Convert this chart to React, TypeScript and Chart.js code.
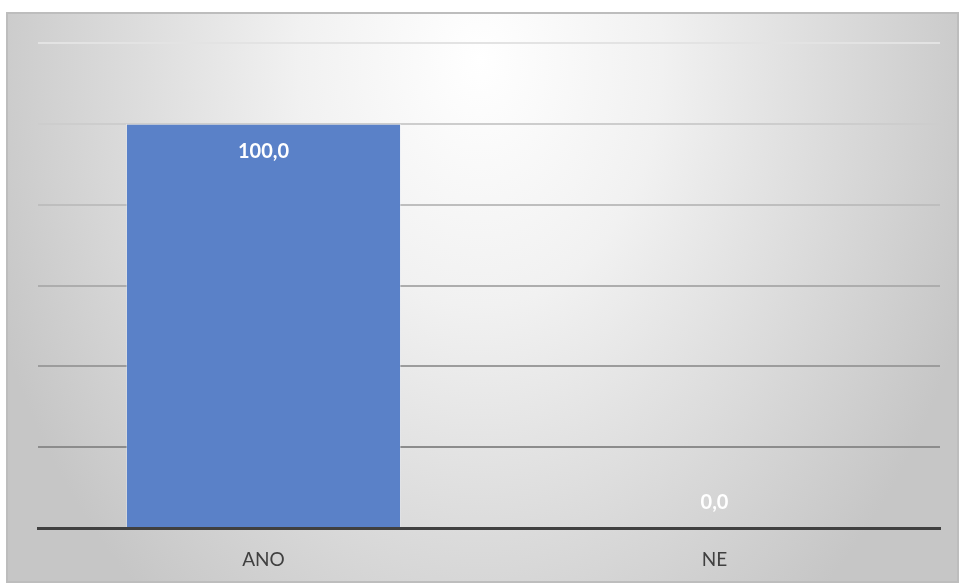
import React, { useEffect, useRef } from "react";
import { Chart, registerables } from "chart.js";

Chart.register(...registerables);

const categories = ["ANO", "NE"];
const values = [100.0, 0.0];
const yMin = 0;
const yMax = 120;
const yStep = 20;

const gridShade: Record<number, string> = {
  0: "#404040",
  20: "#8c8c8c",
  40: "#9c9c9c",
  60: "#adadad",
  80: "#bebebe",
  100: "#cdcdcd",
  120: "#e3e3e3",
};

const bgPlugin = {
  id: "bgPlugin",
  beforeDraw(chart: any) {
    const ctx = chart.ctx;
    const x0 = 7, y0 = 13, x1 = 958, y1 = 582;
    ctx.save();
    ctx.fillStyle = "#ffffff";
    ctx.fillRect(0, 0, chart.width, chart.height);
    ctx.beginPath();
    ctx.rect(x0, y0, x1 - x0, y1 - y0);
    ctx.clip();
    const cx = 480, cy = 60, R = 520, sy = 1.35;
    ctx.translate(cx, cy);
    ctx.scale(1, sy);
    const g = ctx.createRadialGradient(0, 0, 0, 0, 0, R);
    g.addColorStop(0, "#ffffff");
    g.addColorStop(0.35, "#f1f1f1");
    g.addColorStop(1, "#c6c6c6");
    ctx.fillStyle = g;
    ctx.fillRect(x0 - cx, (y0 - cy) / sy, x1 - x0, (y1 - y0) / sy);
    ctx.restore();
    ctx.save();
    ctx.strokeStyle = "#bdbdbd";
    ctx.lineWidth = 2;
    ctx.strokeRect(x0, y0, x1 - x0, y1 - y0);
    ctx.restore();
  },
};

const labelPlugin = {
  id: "labelPlugin",
  afterDatasetsDraw(chart: any) {
    const ctx = chart.ctx;
    const meta = chart.getDatasetMeta(0);
    ctx.save();
    ctx.font = "bold 20px Lato, 'Open Sans', sans-serif";
    ctx.fillStyle = "#ffffff";
    ctx.textAlign = "center";
    ctx.textBaseline = "middle";
    meta.data.forEach((bar: any, i: number) => {
      const v = values[i];
      const txt = v.toFixed(1).replace(".", ",");
      const cyy = Math.min(bar.y + 28, bar.base - 25);
      ctx.fillText(txt, bar.x, cyy);
    });
    ctx.restore();
  },
};

export default function App() {
  const ref = useRef<HTMLCanvasElement>(null);
  useEffect(() => {
    if (!ref.current) return;
    const chart = new Chart(ref.current, {
      type: "bar",
      data: {
        labels: categories,
        datasets: [
          {
            data: values,
            backgroundColor: "#5a81c8",
            borderColor: "rgba(255,255,255,0.35)",
            borderWidth: 1,
            barPercentage: 1,
            categoryPercentage: 0.61,
          },
        ],
      },
      options: {
        animation: false,
        responsive: false,
        maintainAspectRatio: false,
        layout: { padding: { left: 38, right: 19, top: 43, bottom: 0 } },
        plugins: { legend: { display: false }, tooltip: { enabled: false } },
        scales: {
          x: {
            grid: { display: false, drawTicks: false },
            border: { display: true, color: "#404040", width: 3 },
            ticks: {
              color: "#404040",
              font: { family: "Lato, 'Open Sans', sans-serif", size: 19 },
              padding: 20,
            },
            afterFit: (scale: any) => {
              scale.height = 55;
            },
          },
          y: {
            min: yMin,
            max: yMax,
            ticks: { display: false, stepSize: yStep },
            grid: {
              color: (c: any) => gridShade[c.tick ? c.tick.value : 0] || "#c0c0c0",
              lineWidth: 2,
              drawTicks: false,
            },
            border: { display: false },
          },
        },
      },
      plugins: [bgPlugin, labelPlugin],
    });
    return () => chart.destroy();
  }, []);
  return (
    <div style={{ position: "absolute", left: 0, top: 0, width: 959, height: 583 }}>
      <canvas ref={ref} width={959} height={583} style={{ display: "block" }} />
    </div>
  );
}
